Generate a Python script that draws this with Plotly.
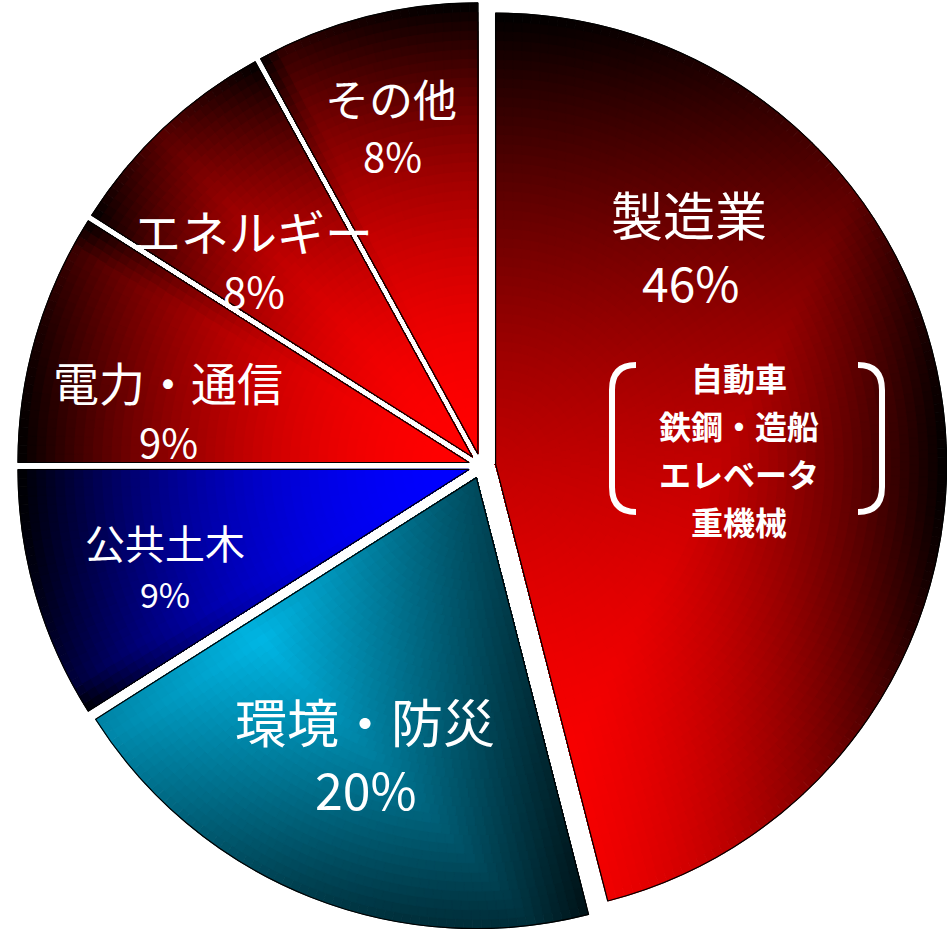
import math
import plotly.graph_objects as go

# ---------------- data ----------------
labels = ["製造業", "環境・防災", "公共土木", "電力・通信", "エネルギー", "その他"]
values = [46, 20, 9, 9, 8, 8]
pct_labels = ["46%", "20%", "9%", "9%", "8%", "8%"]
detail_lines = ["自動車", "鉄鋼・造船", "エレベータ", "重機械"]

# ---------------- style ----------------
W, H = 947, 929
R = 451.0                 # pie radius in px
CX, CY = 481.0, 466.0     # pie centre in px (from top-left)
explode = [14.7, 12.5, 12.5, 12.5, 12.5, 12.5]   # px offset of each slice along its mid angle
bright = [(255, 0, 0), (0, 182, 228), (0, 0, 255), (255, 0, 0), (255, 0, 0), (255, 0, 0)]
# gradient focus (u, v), scales (left, right, up, down) in units of R relative to
# each slice's own centre (u to the right, v downwards), and fall-off exponent
grad = [
    (0.0, 0.969, 1.0, 1.0, 1.969, 1.0, 2.0),
    (-0.475, 0.36, 1.3, 0.80, 0.80, 0.84, 1.0),
    (0.0, 0.0, 1.0, 1.0, 1.0, 0.536, 2.0),
    (0.0, 0.0, 1.0, 1.0, 0.536, 1.0, 2.0),
    (0.0, 0.0, 0.844, 1.0, 0.876, 1.0, 2.0),
    (0.0, 0.0, 0.482, 1.0, 1.0, 1.0, 2.0),
]
N_RINGS = 48
CELL = 9.0
FONT = "Noto Sans CJK JP"

SHIFT_X, SHIFT_Y = -4, -3   # align texts with the pie position
label_pos = [  # (x, y, size) px for name and percentage
    ((693, 217, 52), (695, 284, 48)),
    ((369, 723, 52), (370, 791, 50)),
    ((169, 545, 40), (169, 596, 34)),
    ((172, 384, 46), (172, 444, 40)),
    ((257, 233, 48), (258, 293, 42)),
    ((395, 101, 44), (396, 158, 40)),
]
detail_x = 743
detail_y = [380, 428, 476, 524]
DETAIL_SIZE = 32

TRANSP = "rgba(0,0,0,0)"


def wrap(a):
    return (a + 180.0) % 360.0 - 180.0


def cell_color(i, x, y):
    fu, fv, L, Rr, U, D, p = grad[i]
    dx, dy = x - fu, y - fv
    tx = dx / Rr if dx >= 0 else -dx / L
    ty = dy / D if dy >= 0 else -dy / U
    t = min(1.0, max(tx, ty))
    f = 1.0 - t ** p
    r, g, b = bright[i]
    return "rgb(%d,%d,%d)" % (round(r * f), round(g * f), round(b * f))


def domain_for(gcx, gcy, r):
    x0 = max(0.0, (gcx - r) / W)
    x1 = min(1.0, (gcx + r) / W)
    y0 = max(0.0, 1 - (gcy + r) / H)
    y1 = min(1.0, 1 - (gcy - r) / H)
    return dict(x=[x0, x1], y=[y0, y1])


total = float(sum(values))
fig = go.Figure()

starts = []
acc = 0.0
for v in values:
    starts.append(360.0 * acc / total)
    acc += v

centres = []
for i, v in enumerate(values):
    a0 = starts[i]
    span = 360.0 * v / total
    mid = math.radians(a0 + span / 2)
    gcx = CX + explode[i] * math.sin(mid)
    gcy = CY - explode[i] * math.cos(mid)
    centres.append((gcx, gcy))
    for k in range(N_RINGS, 0, -1):
        r_out = R * k / N_RINGS
        r_mid = R * (k - 0.5) / N_RINGS
        n = max(1, int(math.ceil(math.radians(span) * r_out / CELL)))
        cols = []
        for j in range(n):
            th = math.radians(a0 + span * (j + 0.5) / n)
            x = r_mid / R * math.sin(th)
            y = -r_mid / R * math.cos(th)
            cols.append(cell_color(i, x, y))
        fig.add_trace(go.Pie(
            values=[v / n] * n + [total - v],
            sort=False, direction="clockwise", rotation=wrap(a0),
            marker=dict(colors=cols + [TRANSP],
                        line=dict(color=cols + [TRANSP], width=[0.9] * n + [0])),
            domain=domain_for(gcx, gcy, r_out),
            textinfo="none", hoverinfo="skip", showlegend=False,
        ))

# black outlines of each slice
for i, v in enumerate(values):
    gcx, gcy = centres[i]
    fig.add_trace(go.Pie(
        values=[v, total - v],
        sort=False, direction="clockwise", rotation=wrap(starts[i]),
        marker=dict(colors=[TRANSP, TRANSP],
                    line=dict(color=["#000000", TRANSP], width=[1.2, 0])),
        domain=domain_for(gcx, gcy, R),
        textinfo="none", hoverinfo="skip", showlegend=False,
    ))


def px(x, y):
    return (x + SHIFT_X) / W, 1 - (y + SHIFT_Y) / H


annotations = []
for i in range(len(labels)):
    (nx, ny, ns), (qx, qy, qs) = label_pos[i]
    for txt, x, y, s in ((labels[i], nx, ny, ns), (pct_labels[i], qx, qy, qs)):
        ax, ay = px(x, y)
        annotations.append(dict(text=txt, x=ax, y=ay, xref="paper", yref="paper",
                                xanchor="center", yanchor="middle", showarrow=False,
                                font=dict(family=FONT, size=s, color="white")))
for txt, y in zip(detail_lines, detail_y):
    ax, ay = px(detail_x, y)
    annotations.append(dict(text="<b>%s</b>" % txt, x=ax, y=ay, xref="paper", yref="paper",
                            xanchor="center", yanchor="middle", showarrow=False,
                            font=dict(family=FONT, size=DETAIL_SIZE, color="white")))


def bracket(xe, xs, yt, yb, rad):
    p = lambda x, y: "%.5f,%.5f" % px(x, y)
    return ("M %s Q %s %s L %s Q %s %s" % (
        p(xe, yt), p(xs, yt), p(xs, yt + rad), p(xs, yb - rad), p(xs, yb), p(xe, yb)))


shapes = [
    dict(type="path", xref="paper", yref="paper", path=bracket(640, 616, 368, 515, 25),
         line=dict(color="white", width=6)),
    dict(type="path", xref="paper", yref="paper", path=bracket(862, 886, 368, 515, 25),
         line=dict(color="white", width=6)),
]

fig.update_layout(
    width=W, height=H, margin=dict(l=0, r=0, t=0, b=0),
    paper_bgcolor="white", plot_bgcolor="white",
    font=dict(family=FONT, color="white"),
    annotations=annotations, shapes=shapes, showlegend=False,
)

fig.write_html("out.html", config={"displayModeBar": False},
               post_script="document.body.style.margin='0';document.body.style.overflow='hidden';")
